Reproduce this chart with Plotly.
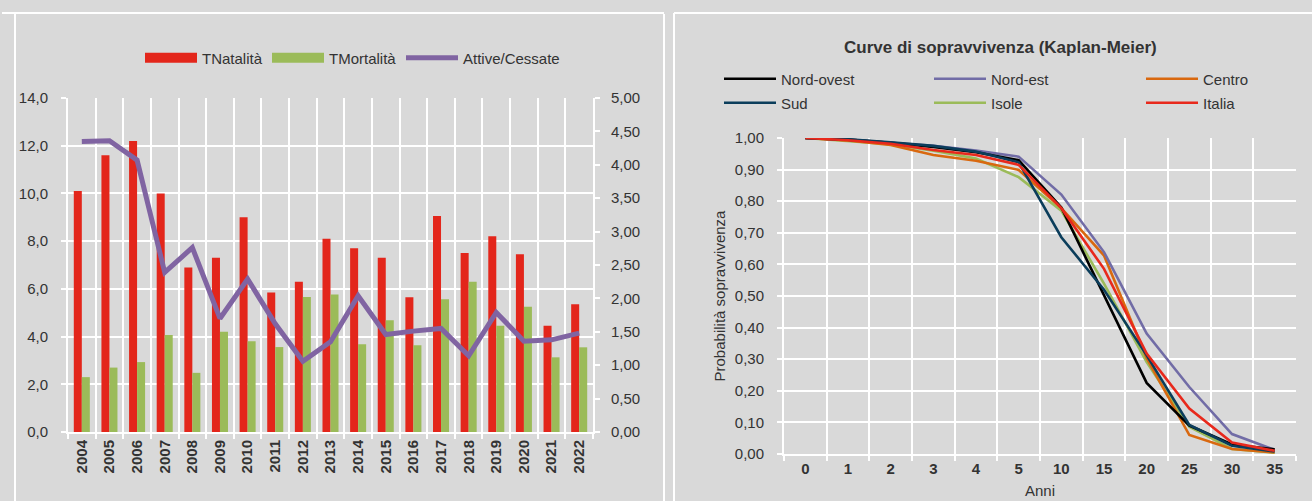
import plotly.graph_objects as go

W, H = 1312, 501

# ---------------- data ----------------
years = [str(y) for y in range(2004, 2023)]
natalita = [10.1, 11.6, 12.2, 10.0, 6.9, 7.3, 9.0, 5.85, 6.3, 8.1, 7.7, 7.3, 5.65, 9.05, 7.5, 8.2, 7.45, 4.45, 5.35]
mortalita = [2.3, 2.7, 2.93, 4.07, 2.48, 4.2, 3.8, 3.56, 5.66, 5.76, 3.68, 4.68, 3.64, 5.56, 6.3, 4.45, 5.25, 3.13, 3.55]
attive_cessate = [4.35, 4.36, 4.07, 2.39, 2.76, 1.70, 2.29, 1.62, 1.06, 1.35, 2.04, 1.46, 1.51, 1.55, 1.14, 1.79, 1.36, 1.38, 1.48]

anni = ["0", "1", "2", "3", "4", "5", "10", "15", "20", "25", "30", "35"]
nord_ovest = [1.0, 0.995, 0.985, 0.972, 0.955, 0.930, 0.780, 0.505, 0.225, 0.090, 0.030, 0.015]
nord_est = [1.0, 0.995, 0.985, 0.975, 0.960, 0.941, 0.821, 0.639, 0.381, 0.212, 0.063, 0.013]
centro = [1.0, 0.992, 0.978, 0.946, 0.928, 0.899, 0.778, 0.628, 0.303, 0.060, 0.016, 0.005]
sud = [1.0, 0.996, 0.986, 0.975, 0.957, 0.923, 0.686, 0.520, 0.312, 0.092, 0.026, 0.008]
isole = [1.0, 0.990, 0.980, 0.960, 0.935, 0.876, 0.770, 0.539, 0.291, 0.086, 0.016, 0.004]
italia = [1.0, 0.993, 0.982, 0.962, 0.946, 0.915, 0.778, 0.586, 0.318, 0.144, 0.036, 0.010]

# ---------------- style ----------------
FONT = "Liberation Sans, Arial, sans-serif"
TXT = "#333333"
BG = "#d9d9d9"
RED, GREEN, PURPLE = "#e3261b", "#9bbb59", "#8064a2"
FS = 15


def fx(px):
    return px / W


def fy(px):
    return 1 - px / H


fig = go.Figure()
legends = {}


def legend_box(lid, text_x, y_px, itemwidth=30):
    # position a single-entry legend so its label starts at text_x
    legends[lid] = dict(orientation="h", x=fx(text_x - itemwidth - 10), xanchor="left", y=fy(y_px),
                        yanchor="middle", bgcolor="rgba(0,0,0,0)", borderwidth=0,
                        font=dict(family=FONT, size=FS, color=TXT), itemwidth=itemwidth)


# ---- left chart ----
fig.add_trace(go.Bar(x=years, y=natalita, name="TNatalità", marker=dict(color=RED, line=dict(width=0)),
                     xaxis="x", yaxis="y", showlegend=False))
fig.add_trace(go.Bar(x=years, y=mortalita, name="TMortalità", marker=dict(color=GREEN, line=dict(width=0)),
                     xaxis="x", yaxis="y", showlegend=False))
fig.add_trace(go.Scatter(x=years, y=attive_cessate, name="Attive/Cessate", mode="lines",
                         line=dict(color=PURPLE, width=5), xaxis="x", yaxis="y2", showlegend=False))

left_leg = [("TNatalità", RED, 10, "legend", 202), ("TMortalità", GREEN, 10, "legend2", 329),
            ("Attive/Cessate", PURPLE, 5, "legend3", 463)]
for nm, col, wd, lid, tx in left_leg:
    fig.add_trace(go.Scatter(x=[None], y=[None], name=nm, mode="lines", line=dict(color=col, width=wd),
                             xaxis="x", yaxis="y", legend=lid, showlegend=True))
    legend_box(lid, tx, 58, itemwidth=52)

# ---- right chart ----
series = [
    ("Nord-ovest", nord_ovest, "#000000", "legend4", 781, 79),
    ("Nord-est", nord_est, "#716ca6", "legend5", 991, 79),
    ("Centro", centro, "#d9680f", "legend6", 1203, 79),
    ("Sud", sud, "#0b3d5b", "legend7", 781, 103),
    ("Isole", isole, "#9bbb59", "legend8", 991, 103),
    ("Italia", italia, "#e8291c", "legend9", 1203, 103),
]
order = ["Isole", "Centro", "Nord-est", "Nord-ovest", "Sud", "Italia"]
byname = {s[0]: s for s in series}
for nm in order:
    _, vals, col, lid, tx, ty = byname[nm]
    fig.add_trace(go.Scatter(x=anni, y=vals, name=nm, mode="lines", line=dict(color=col, width=2.6),
                             xaxis="x3", yaxis="y3", showlegend=False))
for nm, vals, col, lid, tx, ty in series:
    fig.add_trace(go.Scatter(x=[None], y=[None], name=nm, mode="lines", line=dict(color=col, width=2.6),
                             xaxis="x3", yaxis="y3", legend=lid, showlegend=True))
    legend_box(lid, tx, ty, itemwidth=52)

axis_common = dict(showline=True, linecolor="white", linewidth=2, ticks="outside", tickcolor="white",
                   tickwidth=2, ticklen=5, gridcolor="white", gridwidth=1.5, zeroline=False,
                   automargin=False)
tickf = dict(family=FONT, size=FS, color=TXT)
tickb = dict(family=FONT, size=FS, color=TXT, weight="bold")

fig.update_layout(
    width=W, height=H,
    margin=dict(l=0, r=0, t=0, b=0, autoexpand=False),
    paper_bgcolor=BG, plot_bgcolor=BG,
    separators=",.",
    font=dict(family=FONT, size=FS, color=TXT),
    barmode="group", bargap=0.42, bargroupgap=0,
    xaxis=dict(domain=[fx(68), fx(593)], anchor="y", type="category", tickson="boundaries",
               range=[-0.5, len(years) - 0.5],
               showgrid=True, tickangle=-90, tickfont=tickb, **axis_common),
    yaxis=dict(domain=[fy(432), fy(98)], anchor="x", range=[0, 14], dtick=2, tickformat=".1f",
               showgrid=True, ticklabelstandoff=10, tickfont=tickf, **axis_common),
    yaxis2=dict(overlaying="y", anchor="x", side="right", range=[0, 5], dtick=0.5, tickformat=".2f",
                showgrid=False, ticklabelstandoff=8, tickfont=tickf, **axis_common),
    xaxis3=dict(domain=[fx(784), fx(1296)], anchor="y3", type="category", tickson="boundaries",
                range=[-0.5, len(anni) - 0.5],
                showgrid=True, tickfont=tickb,
                title=dict(text="Anni", font=tickf, standoff=9), **axis_common),
    yaxis3=dict(domain=[fy(454), fy(138)], anchor="x3", range=[0, 1], dtick=0.1, tickformat=".2f",
                showgrid=True, ticklabelstandoff=10, tickfont=tickf,
                title=dict(text="Probabilità sopravvivenza", font=tickf, standoff=6), **axis_common),
    annotations=[dict(text="<b>Curve di sopravvivenza (Kaplan-Meier)</b>", xref="paper", yref="paper",
                      x=fx(1000), y=fy(48), xanchor="center", yanchor="middle", showarrow=False,
                      font=dict(family=FONT, size=17, color=TXT))],
    shapes=[
        dict(type="line", xref="paper", yref="paper", x0=fx(2), x1=fx(661), y0=fy(13), y1=fy(13),
             line=dict(color="white", width=2)),
        dict(type="line", xref="paper", yref="paper", x0=fx(15), x1=fx(15), y0=fy(13), y1=fy(501),
             line=dict(color="white", width=2)),
        dict(type="line", xref="paper", yref="paper", x0=fx(660), x1=fx(664), y0=fy(13), y1=fy(13),
             line=dict(color="white", width=2)),
        dict(type="line", xref="paper", yref="paper", x0=fx(664), x1=fx(664), y0=fy(14), y1=fy(501),
             line=dict(color="white", width=2)),
        dict(type="line", xref="paper", yref="paper", x0=fx(674), x1=fx(1312), y0=fy(13), y1=fy(13),
             line=dict(color="white", width=2)),
        dict(type="line", xref="paper", yref="paper", x0=fx(674), x1=fx(674), y0=fy(13), y1=fy(501),
             line=dict(color="white", width=2)),
    ],
    **legends,
)

fig.write_html("out.html", config={"displayModeBar": False},
               post_script="document.body.style.margin='0';document.body.style.overflow='hidden';")
